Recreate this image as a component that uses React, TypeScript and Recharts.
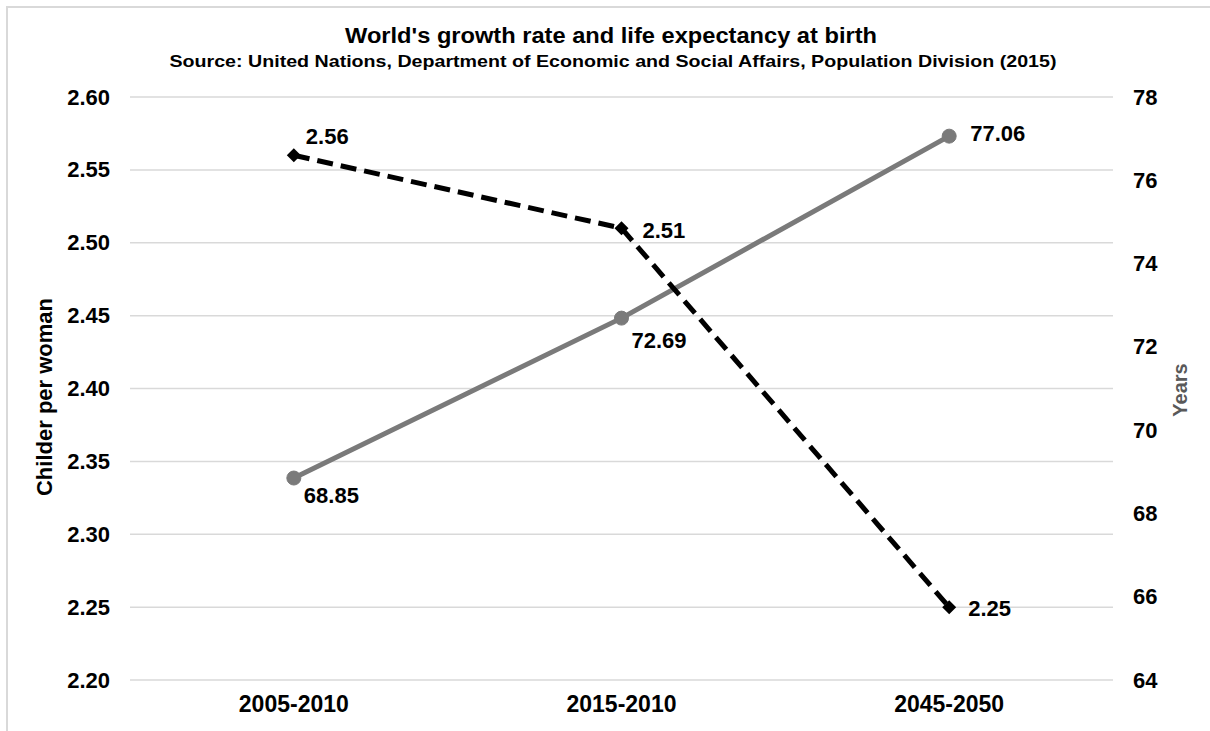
import { LineChart, Line, XAxis, YAxis, CartesianGrid, LabelList } from "recharts";

const periods = ["2005-2010", "2015-2010", "2045-2050"];
const fertility = [2.56, 2.51, 2.25];
const lifeExpectancy = [68.85, 72.69, 77.06];

const fertilityTicks = [2.2, 2.25, 2.3, 2.35, 2.4, 2.45, 2.5, 2.55, 2.6];
const yearTicks = [64, 66, 68, 70, 72, 74, 76, 78];

const data = periods.map((period, i) => ({
  period,
  fertility: fertility[i],
  life: lifeExpectancy[i],
}));

const FONT = "'Liberation Sans', Arial, sans-serif";
const GREY = "#7a7a7a";

// label nudges per point, [dx, dy] from the marker
const fertilityLabelOffset = [
  [12, -19],
  [21, 2],
  [19, 1],
];
const lifeLabelOffset = [
  [10, 17],
  [10, 22],
  [21, -3],
];

const Diamond = (props: any) => {
  const { cx, cy } = props;
  if (cx == null || cy == null) return null;
  const r = 7;
  return (
    <polygon
      points={`${cx},${cy - r} ${cx + r},${cy} ${cx},${cy + r} ${cx - r},${cy}`}
      fill="#000"
    />
  );
};

const makeLabel = (offsets: number[][], fmt: (v: number) => string) => (props: any) => {
  const { x, y, value, index } = props;
  const [dx, dy] = offsets[index] ?? [10, 0];
  return (
    <text
      x={x + dx}
      y={y + dy}
      fontFamily={FONT}
      fontWeight="bold"
      fontSize={22}
      fill="#000"
      dominantBaseline="central"
      textAnchor="start"
    >
      {fmt(value)}
    </text>
  );
};

// y tick text pinned to a fixed column next to the plot
const makeYTick = (x: number, anchor: "start" | "end", fmt: (v: number) => string) => (props: any) => {
  const { y, payload } = props;
  return (
    <text
      x={x}
      y={y}
      textAnchor={anchor}
      dominantBaseline="central"
      fontFamily={FONT}
      fontWeight="bold"
      fontSize={22}
      fill="#000"
    >
      {fmt(payload.value)}
    </text>
  );
};

const xTickStyle = { fontFamily: FONT, fontWeight: "bold", fontSize: 23, fill: "#000" };

export default function App() {
  return (
    <div style={{ position: "fixed", left: 0, top: 0, width: 1210, height: 731, background: "#fff" }}>
      <div
        style={{
          position: "absolute",
          left: 6,
          top: 6,
          width: 1220,
          height: 740,
          borderLeft: "2px solid #d9d9d9",
          borderTop: "2px solid #d9d9d9",
        }}
      />
      <div style={{ position: "absolute", left: 0, top: 0 }}>
        <LineChart width={1210} height={731} data={data} margin={{ top: 97, right: 0, bottom: 0, left: 0 }}>
          <CartesianGrid yAxisId="left" vertical={false} stroke="#d9d9d9" strokeWidth={1.5} />
          <XAxis
            dataKey="period"
            scale="band"
            axisLine={false}
            tickLine={false}
            height={51}
            tick={xTickStyle}
            tickMargin={10}
          />
          <YAxis
            yAxisId="left"
            domain={[2.2, 2.6]}
            ticks={fertilityTicks}
            axisLine={false}
            tickLine={false}
            width={130}
            tick={makeYTick(110, "end", (v) => v.toFixed(2))}
          />
          <YAxis
            yAxisId="right"
            orientation="right"
            domain={[64, 78]}
            ticks={yearTicks}
            axisLine={false}
            tickLine={false}
            width={97}
            tick={makeYTick(1133, "start", (v) => String(v))}
          />
          <Line
            yAxisId="right"
            dataKey="life"
            stroke={GREY}
            strokeWidth={5}
            dot={{ r: 7, fill: GREY, stroke: GREY, strokeWidth: 1 }}
            activeDot={false}
            isAnimationActive={false}
          >
            <LabelList dataKey="life" content={makeLabel(lifeLabelOffset, (v) => v.toFixed(2))} />
          </Line>
          <Line
            yAxisId="left"
            dataKey="fertility"
            stroke="#000"
            strokeWidth={5}
            strokeDasharray="16 8"
            dot={<Diamond />}
            activeDot={false}
            isAnimationActive={false}
          >
            <LabelList dataKey="fertility" content={makeLabel(fertilityLabelOffset, (v) => v.toFixed(2))} />
          </Line>
        </LineChart>
      </div>
      <svg
        width={1210}
        height={731}
        style={{ position: "absolute", left: 0, top: 0, pointerEvents: "none" }}
        fontFamily={FONT}
      >
        <text x={611} y={43} textAnchor="middle" fontWeight="bold" fontSize={22} fill="#000"
          textLength={532} lengthAdjust="spacingAndGlyphs">
          World's growth rate and life expectancy at birth
        </text>
        <text x={613} y={67} textAnchor="middle" fontWeight="bold" fontSize={17} fill="#000"
          textLength={887} lengthAdjust="spacingAndGlyphs">
          Source: United Nations, Department of Economic and Social Affairs, Population Division (2015)
        </text>
        <text transform="translate(52, 397) rotate(-90)" textAnchor="middle" fontWeight="bold" fontSize={22} fill="#000">
          Childer per woman
        </text>
        <text transform="translate(1187, 390) rotate(-90)" textAnchor="middle" fontWeight="bold" fontSize={20} fill="#595959">
          Years
        </text>
      </svg>
    </div>
  );
}
